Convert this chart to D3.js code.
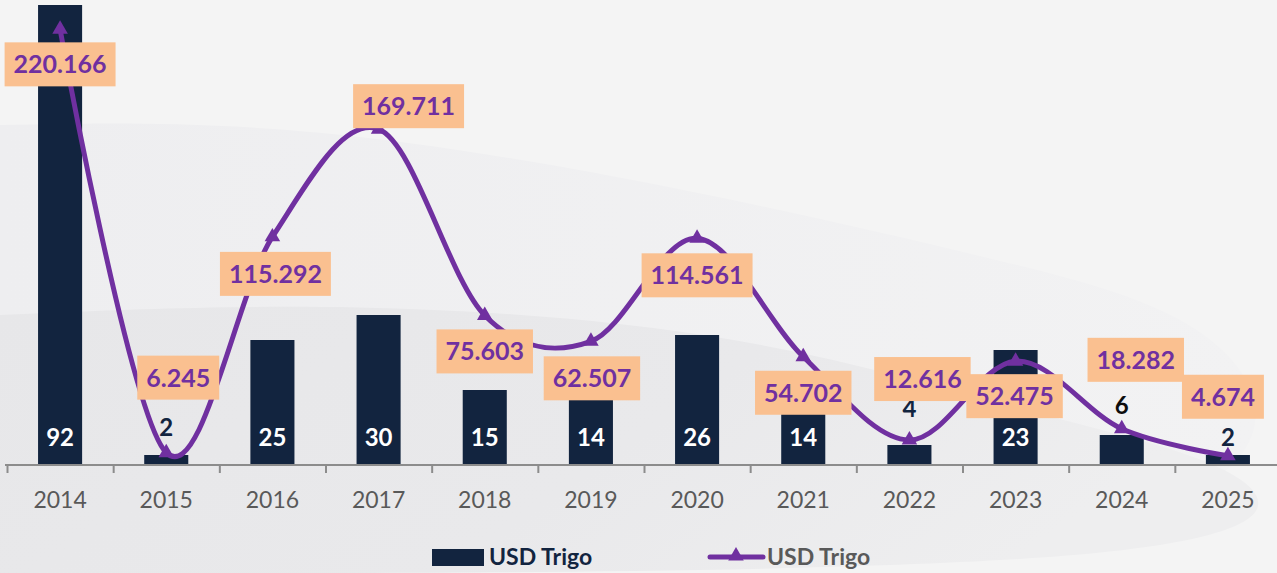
<!DOCTYPE html>
<html>
<head>
<meta charset="utf-8">
<script src="https://cdn.jsdelivr.net/npm/d3@7"></script>
<style>
    html, body { margin: 0; padding: 0; background: #f4f4f4; }
    svg { display: block; font-family: Lato, "Open Sans", sans-serif; }
</style>
</head>
<body>
<svg id="chart" width="1277" height="573"></svg>
<script>
// data
var years = ["2014", "2015", "2016", "2017", "2018", "2019", "2020", "2021", "2022", "2023", "2024", "2025"];
var barValues = [92, 2, 25, 30, 15, 14, 26, 14, 4, 23, 6, 2];
var lineValues = [220.166, 6.245, 115.292, 169.711, 75.603, 62.507, 114.561, 54.702, 12.616, 52.475, 18.282, 4.674];
var lineLabels = ["220.166", "6.245", "115.292", "169.711", "75.603", "62.507", "114.561", "54.702", "12.616", "52.475", "18.282", "4.674"];
var seriesNames = ["USD Trigo", "USD Trigo"];

// hand placed label offsets (px), like the moved labels in the original
var lineLabelDx = [0, 12, 3, 30, 0, 1, 0, 0, 13, -1, 14, -5];
var lineLabelDy = [35, -75, 37, -23, 36, 37, 37, 36, -61, 35, -69, -59];
var barLabelDy = [0, -10, 0, 0, 0, 0, 0, 0, -29, 0, -32, 0];

document.addEventListener("DOMContentLoaded", function () {
    var svg = d3.select("#chart");
    var width = +svg.attr("width");
    var height = +svg.attr("height");

    var navy = "#12243f";
    var purple = "#7030a0";
    var boxFill = "#fac090";
    var baseY = 465;

    // background swooshes
    var defs = svg.append("defs");
    var g1 = defs.append("linearGradient").attr("id", "sw1").attr("x1", 0).attr("x2", 1).attr("y1", 0).attr("y2", 0);
    g1.append("stop").attr("offset", 0).attr("stop-color", "#eeeef0");
    g1.append("stop").attr("offset", 1).attr("stop-color", "#f2f2f3");
    var g2 = defs.append("linearGradient").attr("id", "sw2").attr("x1", 0).attr("x2", 1).attr("y1", 0).attr("y2", 0.3);
    g2.append("stop").attr("offset", 0).attr("stop-color", "#e7e7e9");
    g2.append("stop").attr("offset", 0.6).attr("stop-color", "#e9e9eb");
    g2.append("stop").attr("offset", 1).attr("stop-color", "#eeeeef");

    var bg = svg.append("g").attr("class", "background");
    bg.append("rect").attr("width", width).attr("height", height).attr("fill", "#f4f4f4");
    var area = d3.line().curve(d3.curveBasis);
    bg.append("path")
        .attr("d", area([[0, 125], [300, 120], [700, 190], [1000, 260], [1277, 330], [1277, 573], [0, 573]]) + "Z")
        .attr("fill", "url(#sw1)");
    bg.append("path")
        .attr("d", area([[0, 315], [350, 300], [750, 330], [1050, 420], [1277, 470], [1277, 573], [0, 573]]) + "Z")
        .attr("fill", "url(#sw2)");

    var x = d3.scaleBand()
        .domain(years)
        .range([7, 1281])
        .paddingInner(0.585)
        .paddingOuter(0.2925);

    var edges = d3.scaleLinear().domain([0, years.length]).range([7, 1281]);

    var yBar = d3.scaleLinear().domain([0, 93]).range([baseY, 0]);
    var yLine = d3.scaleLinear().domain([0, 235]).range([baseY, 0]);

    function cx(i) { return x(years[i]) + x.bandwidth() / 2; }

    // bars
    svg.append("g")
        .attr("class", "bars")
        .selectAll("rect")
        .data(barValues)
        .enter()
        .append("rect")
        .attr("x", function (d, i) { return x(years[i]); })
        .attr("y", function (d) { return yBar(d); })
        .attr("width", x.bandwidth())
        .attr("height", function (d) { return baseY - yBar(d); })
        .attr("fill", navy);

    // axis with tick marks between categories
    var tickAxis = svg.append("g")
        .attr("transform", "translate(0," + baseY + ")")
        .call(d3.axisBottom(edges).ticks(years.length).tickSize(8).tickFormat(""));
    tickAxis.select(".domain").remove();
    tickAxis.selectAll(".tick line").attr("stroke", "#8c8c8c").attr("stroke-width", 2);
    svg.append("line")
        .attr("x1", 5).attr("x2", width)
        .attr("y1", baseY).attr("y2", baseY)
        .attr("stroke", "#8c8c8c").attr("stroke-width", 2);

    var labelAxis = svg.append("g")
        .attr("transform", "translate(0," + baseY + ")")
        .call(d3.axisBottom(x).tickSize(0).tickPadding(0));
    labelAxis.select(".domain").remove();
    labelAxis.selectAll(".tick text")
        .attr("y", 43)
        .attr("dy", 0)
        .attr("fill", "#595959")
        .style("font-family", "Lato, sans-serif")
        .style("font-size", "23px");

    // bar value labels
    svg.append("g")
        .attr("class", "bar-labels")
        .selectAll("text")
        .data(barValues)
        .enter()
        .append("text")
        .attr("x", function (d, i) { return cx(i); })
        .attr("y", function (d, i) { return 446 + barLabelDy[i]; })
        .attr("text-anchor", "middle")
        .attr("font-weight", 700)
        .attr("font-size", "24px")
        .attr("fill", function (d) {
            if (d >= 10) {
                return "#ffffff";
            } else if (d === 6) {
                return "#0d0d0d";
            }
            return navy;
        })
        .text(function (d) { return d; });

    // smoothed line
    var line = d3.line()
        .x(function (d, i) { return cx(i); })
        .y(function (d) { return yLine(d); })
        .curve(d3.curveCardinal.tension(0));

    svg.append("path")
        .datum(lineValues)
        .attr("fill", "none")
        .attr("stroke", purple)
        .attr("stroke-width", 5)
        .attr("stroke-linecap", "round")
        .attr("d", line);

    var tri = d3.symbol().type(d3.symbolTriangle).size(105);
    svg.append("g")
        .attr("class", "markers")
        .selectAll("path")
        .data(lineValues)
        .enter()
        .append("path")
        .attr("d", tri)
        .attr("transform", function (d, i) { return "translate(" + cx(i) + "," + yLine(d) + ")"; })
        .attr("fill", purple);

    // boxed labels for the line
    var boxes = svg.append("g")
        .attr("class", "line-labels")
        .selectAll("g")
        .data(lineValues)
        .enter()
        .append("g")
        .attr("transform", function (d, i) {
            return "translate(" + (cx(i) + lineLabelDx[i]) + "," + (yLine(d) + lineLabelDy[i]) + ")";
        });

    boxes.append("rect").attr("fill", boxFill);
    boxes.append("text")
        .attr("text-anchor", "middle")
        .attr("y", 9)
        .attr("font-weight", 700)
        .attr("font-size", "25px")
        .attr("fill", purple)
        .text(function (d, i) { return lineLabels[i]; });

    boxes.each(function () {
        var g = d3.select(this);
        var w = g.select("text").node().getComputedTextLength() + 18;
        g.select("rect")
            .attr("x", -w / 2)
            .attr("y", -22)
            .attr("width", w)
            .attr("height", 44);
    });

    // legend
    var legend = svg.append("g").attr("class", "legend");
    legend.append("rect")
        .attr("x", 432).attr("y", 549)
        .attr("width", 52).attr("height", 17)
        .attr("fill", navy);
    legend.append("text")
        .attr("x", 489).attr("y", 565)
        .attr("font-weight", 700)
        .attr("font-size", "23px")
        .attr("fill", navy)
        .text(seriesNames[0]);
    legend.append("line")
        .attr("x1", 710).attr("x2", 763)
        .attr("y1", 557).attr("y2", 557)
        .attr("stroke", purple)
        .attr("stroke-width", 5)
        .attr("stroke-linecap", "round");
    legend.append("path")
        .attr("d", tri)
        .attr("transform", "translate(736,556)")
        .attr("fill", purple);
    legend.append("text")
        .attr("x", 767).attr("y", 565)
        .attr("font-weight", 700)
        .attr("font-size", "23px")
        .attr("fill", "#595959")
        .text(seriesNames[1]);
});
</script>
</body>
</html>
